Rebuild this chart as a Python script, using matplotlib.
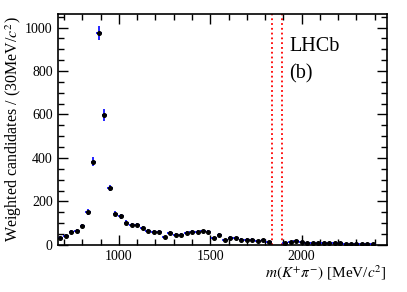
import numpy as np
import matplotlib
matplotlib.use('Agg')
import matplotlib.pyplot as plt
from matplotlib.ticker import MultipleLocator

# bin centres [MeV/c^2], 30 MeV bins (D0 window 1835-1895 vetoed)
mass = [680, 710, 740, 770, 800, 830, 860, 890, 920, 950,
        980, 1010, 1040, 1070, 1100, 1130, 1160, 1190, 1220, 1250,
        1280, 1310, 1340, 1370, 1400, 1430, 1460, 1490, 1520, 1550,
        1580, 1610, 1640, 1670, 1700, 1730, 1760, 1790, 1820,
        1910, 1940, 1970, 2000, 2030, 2060, 2090, 2120, 2150, 2180,
        2210, 2240, 2270, 2300, 2330, 2360, 2390]
counts = [34, 42, 60, 66, 88, 152, 383, 975, 598, 262,
          143, 131, 103, 91, 91, 78, 65, 60, 62, 35,
          57, 48, 48, 57, 59, 59, 63, 61, 31, 46,
          23, 34, 32, 25, 25, 25, 20, 22, 15,
          11, 13, 20, 13, 10, 9, 9, 8, 9, 8,
          7, 6, 6, 5, 6, 5, 3]
errors = [7, 7, 8, 8, 10, 13, 20, 33, 26, 16,
          12, 11, 10, 9, 9, 9, 8, 8, 8, 6,
          8, 7, 7, 8, 8, 8, 8, 8, 6, 7,
          5, 6, 6, 5, 5, 5, 5, 5, 4,
          4, 4, 5, 4, 3, 3, 3, 3, 3, 3,
          3, 3, 3, 2, 3, 2, 2]
veto_lines = [1835, 1895]
bin_half = 15

plt.rcParams['font.family'] = 'Liberation Serif'
plt.rcParams['mathtext.fontset'] = 'stix'

fig = plt.figure(figsize=(4.07, 2.92), dpi=100)
ax = fig.add_axes([0.1418, 0.161, 0.8082, 0.791])

ax.errorbar(mass, counts, yerr=errors, xerr=bin_half, fmt='o', color='black',
            ecolor='blue', elinewidth=1.2, markersize=2.6, capsize=0, zorder=3)

for v in veto_lines:
    ax.axvline(v, color='red', linestyle=':', linewidth=1.3, zorder=2)

ax.set_xlim(665, 2465)
ax.set_ylim(0, 1062)

ax.xaxis.set_major_locator(MultipleLocator(500))
ax.xaxis.set_minor_locator(MultipleLocator(100))
ax.yaxis.set_major_locator(MultipleLocator(200))
ax.yaxis.set_minor_locator(MultipleLocator(50))
ax.tick_params(which='both', direction='in', top=True, right=True, labelsize=10)
ax.tick_params(which='major', length=7, width=1.0)
ax.tick_params(which='minor', length=4, width=1.0)
for s in ax.spines.values():
    s.set_linewidth(1.2)

ax.set_xlabel(r'$m(K^{+}\pi^{-})$ [MeV/$c^{2}$]', fontsize=11, loc='right', labelpad=0)
ax.set_ylabel(r'Weighted candidates / (30MeV/$c^{2}$)', fontsize=11.5, loc='center', labelpad=1)

ax.text(0.705, 0.84, 'LHCb', transform=ax.transAxes, fontsize=14.5)
ax.text(0.705, 0.72, '(b)', transform=ax.transAxes, fontsize=14.5)

fig.savefig('out.png', dpi=100)
